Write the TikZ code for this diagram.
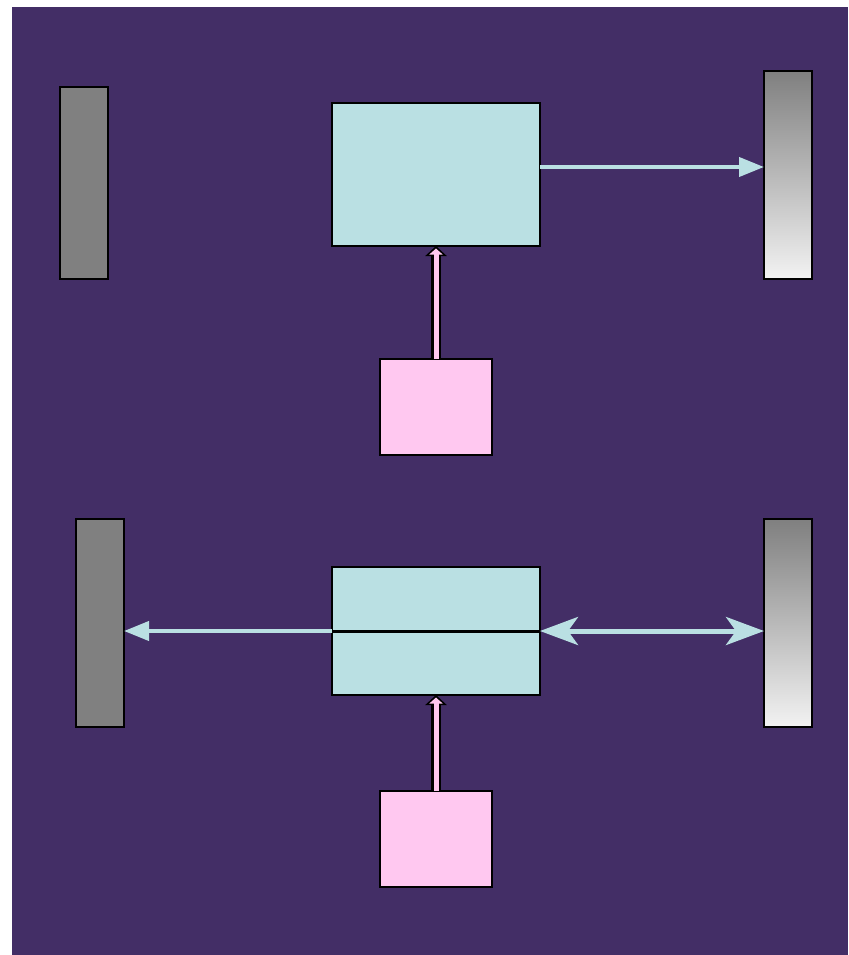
\documentclass[tikz,border=0pt]{standalone}
\usetikzlibrary{arrows.meta}
\definecolor{night}{HTML}{432E66}
\definecolor{ice}{HTML}{BAE0E3}
\definecolor{blush}{HTML}{FFC8F0}
\def\feed#1#2{\draw[feedout] (#1) -- (#2); \draw[feedin] (#1) -- (#2);}

\begin{document}
\begin{tikzpicture}[x=1pt,y=-1pt,
    slab/.style={draw=black,line width=2pt,inner sep=0pt,outer sep=0pt,minimum width=48pt},
    plate/.style={slab,fill=gray},
    screen/.style={slab,top color=gray,bottom color=black!5,minimum height=208pt},
    crystal/.style={slab,fill=ice,minimum width=208pt},
    pump/.style={slab,fill=blush,minimum width=112pt,minimum height=96pt},
    beam/.style={ice,line width=4pt,-{Triangle[length=25pt,width=19pt]}},
    twoway/.style={ice,line width=5pt,{Stealth[length=38pt,width=28pt,inset=10pt]}-{Stealth[length=38pt,width=28pt,inset=10pt]}},
    feedout/.style={line width=10pt,-{Triangle[length=10pt,width=21pt]}},
    feedin/.style={blush,line width=5pt,shorten >=2.5pt,-{Triangle[length=6pt,width=13pt]}}]
                \useasboundingbox (0,0) rectangle (848,955);
                \fill[night] (12,7) rectangle (848,955);

                \node[plate,minimum height=192pt] (plateA) at (84,183) {};
                \node[crystal,minimum height=143pt] (crystalA) at (436,174.5) {};
                \node[screen] (screenA) at (788,175) {};
                \node[pump] (pumpA) at (436,407) {};
                \draw[beam] ([yshift=7.5pt]crystalA.east) -- ([yshift=7.5pt]crystalA.east -| screenA.west);
                \feed{pumpA.north}{crystalA.south}

                \node[plate,minimum height=208pt] (plateB) at (100,623) {};
                \node[crystal,minimum height=128pt] (crystalB) at (436,631) {};
                \node[screen] (screenB) at (788,623) {};
                \node[pump] (pumpB) at (436,839) {};
                \draw[line width=3pt] (crystalB.west) -- (crystalB.east);
                \draw[beam] (crystalB.west) -- (crystalB.west -| plateB.east);
                \draw[twoway] (crystalB.east) -- (crystalB.east -| screenB.west);
                \feed{pumpB.north}{crystalB.south}
            \end{tikzpicture}
\end{document}
